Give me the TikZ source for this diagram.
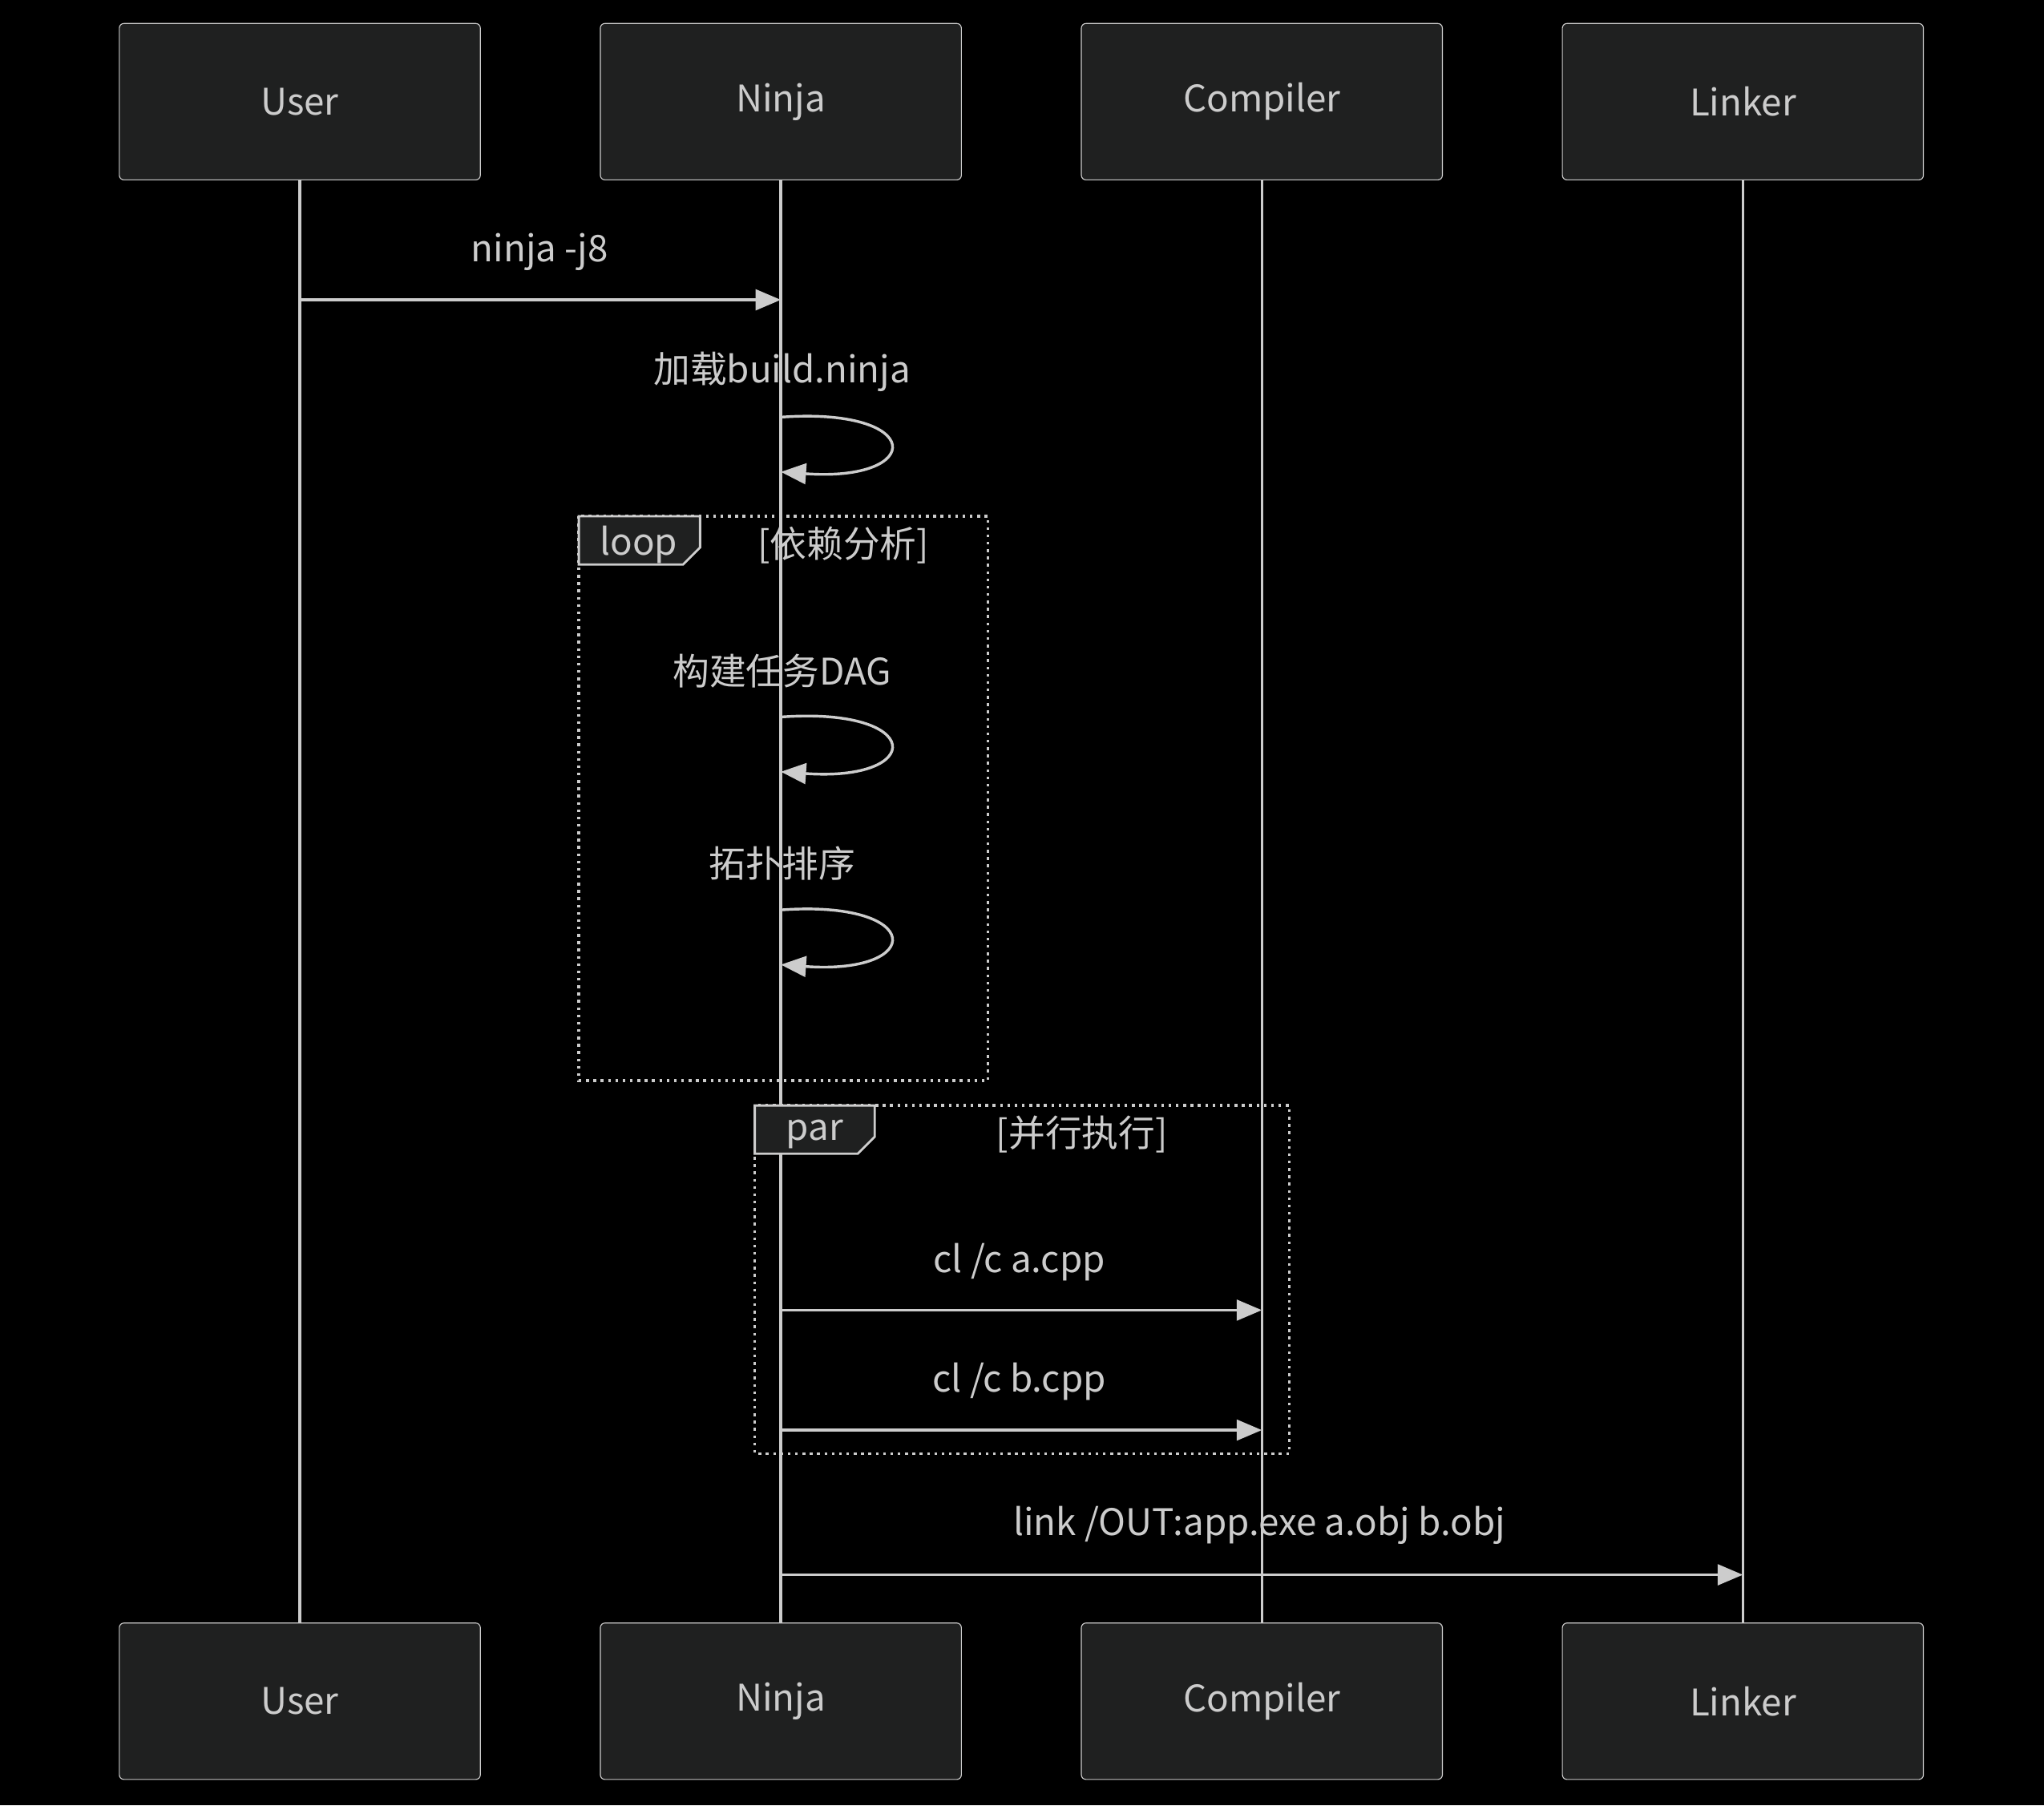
\documentclass[tikz,border=0pt]{standalone}
\usepackage{fontspec}
\setmainfont{Noto Sans CJK SC}
\usetikzlibrary{arrows.meta}
\definecolor{boxfill}{HTML}{1F2020}
\definecolor{ink}{HTML}{CCCCCC}
\tikzset{
  actor/.style={draw=ink,fill=boxfill,rounded corners=2pt,minimum width=5.54cm,minimum height=2.4cm,text=ink,font=\fontsize{16}{19}\selectfont},
  life/.style={draw=ink,line width=1.2pt},
  msg/.style={draw=ink,line width=1.2pt,-{Triangle[length=11pt,width=9pt]}},
  lbl/.style={text=ink,font=\fontsize{16}{19}\selectfont},
  frame/.style={draw=ink,line width=1.2pt,dotted},
  tab/.style={draw=ink,fill=boxfill,line width=1pt}
}
\begin{document}
\begin{tikzpicture}[x=0.02cm,y=-0.02cm]
\fill[black] (0,0) rectangle (1568,1385);
% actors
\foreach \n/\t/\x in {user/User/230,ninja/Ninja/599,comp/Compiler/968,link/Linker/1337}{
  \node[actor] (\n top) at (\x,78) {\t};
  \node[actor] (\n bot) at (\x,1305) {\t};
  \draw[life] (\n top) -- (\n bot);
}
% frames
\draw[frame] (444,396) rectangle (758,829);
\draw[tab] (444,396) -- (537,396) -- (537,420) -- (524,433) -- (444,433) -- cycle;
\node[lbl] (looptag) at (490,418) {loop};
\node[lbl] (loopcond) at (647,418) {[依赖分析]};
\draw[frame] (579,848) rectangle (989,1115);
\draw[tab] (579,848) -- (671,848) -- (671,872) -- (658,885) -- (579,885) -- cycle;
\node[lbl] (partag) at (625,870) {par};
\node[lbl] (parcond) at (830,870) {[并行执行]};
% messages
\coordinate (u1) at (230,230); \coordinate (n1) at (599,230);
\node[lbl] (m1) at (414,193) {ninja -j8};
\draw[msg] (u1) -- (n1);
\foreach \ly/\ay/\t/\k in {285/320/加载build.ninja/a,515/550/构建任务DAG/b,662/698/拓扑排序/c}{
  \node[lbl] (self\k) at (600,\ly) {\t};
  \coordinate (s\k) at (599,\ay);
  \coordinate (e\k) at (599,\ay+42);
  \draw[msg] (s\k) .. controls (710,\ay-8) and (710,\ay+50) .. (e\k);
}
\coordinate (n2) at (599,1005); \coordinate (c2) at (968,1005);
\node[lbl] (m2) at (782,968) {cl /c a.cpp};
\draw[msg] (n2) -- (c2);
\coordinate (n3) at (599,1097); \coordinate (c3) at (968,1097);
\node[lbl] (m3) at (782,1060) {cl /c b.cpp};
\draw[msg] (n3) -- (c3);
\coordinate (n4) at (599,1208); \coordinate (l4) at (1337,1208);
\node[lbl] (m4) at (966,1170) {link /OUT:app.exe a.obj b.obj};
\draw[msg] (n4) -- (l4);
\end{tikzpicture}
\end{document}
